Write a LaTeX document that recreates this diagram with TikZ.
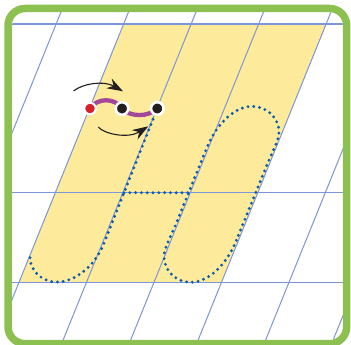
\documentclass[tikz,border=0pt]{standalone}
\usetikzlibrary{arrows.meta}
\definecolor{gridblue}{HTML}{7D96D7}
\definecolor{band}{HTML}{FDEA9B}
\definecolor{framegreen}{HTML}{8CC152}
\definecolor{dotblue}{HTML}{0B5CAD}
\definecolor{purp}{HTML}{A3479B}
\definecolor{reddot}{HTML}{D5202A}
\definecolor{blk}{HTML}{231F20}
\tikzset{
  gridline/.style={gridblue, line width=1pt},
  hline/.style={gridblue, line width=1.3pt},
  dotted guide/.style={dotblue, line width=3.2pt, line cap=round, dash pattern=on 0pt off 5.8pt},
  wave/.style={purp, line width=4.3pt, line cap=round},
  hint/.style={blk, line width=1.1pt, -{Stealth[length=16pt,width=11pt]}},
  startdot/.style={circle, inner sep=0pt, minimum size=11.4pt, fill=reddot, draw=white, line width=2pt},
  pivotdot/.style={circle, inner sep=0pt, minimum size=12.5pt, fill=blk, draw=white, line width=2.5pt},
}
\begin{document}
\begin{tikzpicture}[x=1pt,y=-1pt]
\useasboundingbox (0,0) rectangle (351,345);
\fill[white] (0,0) rectangle (351,345);
\begin{scope}
  \clip[rounded corners=13pt] (12,12.25) rectangle (343,339.75);
  % yellow band
  \fill[band] (123.64,24) -- (326.14,24) -- (221.37,282.7) -- (18.87,282.7) -- cycle;
  % slanted grid lines
  \foreach \u in {61,128.5,196,263.5,331,398.5,466}{
    \draw[gridline] (\u+4.86,0) -- (\u-134.9,345);
  }
  % horizontal lines
  \foreach \yy in {24,192.7,282.7}{
    \draw[hline] (0,\yy) -- (351,\yy);
  }
\end{scope}
% dots and nodes
\node[startdot] (r) at (90,108.5) {};
\node[pivotdot] (b1) at (122,108.5) {};
\node[pivotdot] (b2) at (157.3,108.5) {};
\coordinate (lstroke) at (104.5,242);
\coordinate (lbottom) at (57,282);
\coordinate (lend) at (30,257);
\coordinate (barL) at (124,192.7);
\coordinate (barR) at (188.7,192.7);
% left stroke with bottom hook
\draw[dotted guide] (b2.center) -- (lstroke) .. controls (93.6,270) and (72,282) .. (lbottom)
  .. controls (42,282) and (30,271) .. (lend);
% crossbar
\draw[dotted guide] (barL) -- (barR);
% right loop
\begin{scope}[shift={(221.5,194.3)}]
  \draw[dotted guide] (14.9,46) .. controls (3.65,73.8) and (-15.5,88) .. (-30.5,88)
    .. controls (-45.5,88) and (-57.5,76.4) .. (-57.5,62)
    .. controls (-57.5,54) and (-49.85,40.3) .. (-46.1,31)
    -- (-14.9,-46)
    .. controls (-3.65,-73.8) and (15.5,-88) .. (30.5,-88)
    .. controls (45.5,-88) and (57.5,-76.4) .. (57.5,-62)
    .. controls (57.5,-54) and (49.85,-40.3) .. (46.1,-31)
    -- cycle;
\end{scope}
% purple wave
\draw[wave] (r.center) .. controls (97,97.5) and (115,97.5) .. (b1.center)
  .. controls (130,117.5) and (149,117) .. (b2.center);
% redraw dots on top
\node[startdot] at (r) {};
\node[pivotdot] at (b1) {};
\node[pivotdot] at (b2) {};
% arrows
\coordinate (a1s) at (73.5,91);
\coordinate (a1e) at (123,91.3);
\coordinate (a2s) at (98.3,127);
\coordinate (a2e) at (148.3,126.3);
\draw[hint] (a1s) .. controls (82,84) and (103,80) .. (a1e);
\draw[hint] (a2s) .. controls (104,134) and (128,139) .. (a2e);
% frame
\draw[framegreen, line width=7.5pt, rounded corners=17pt] (8,8.5) rectangle (346.7,343.7);
\end{tikzpicture}
\end{document}
